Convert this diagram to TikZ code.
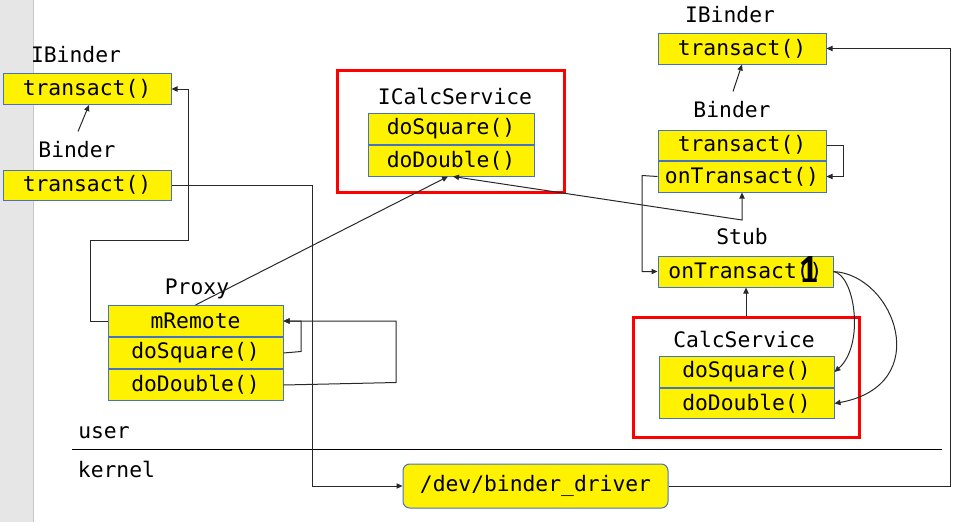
\documentclass[tikz,border=0pt]{standalone}
\usepackage{fontspec}
\usetikzlibrary{arrows.meta,calc}
\newfontfamily\dmono{DejaVu Sans Mono}
\newfontfamily\carl{Carlito}
\newcommand\mfont{\fontsize{16pt}{19pt}\selectfont\dmono}
\definecolor{boxblue}{RGB}{68,114,196}
\definecolor{stripgray}{RGB}{230,230,230}
\definecolor{stripline}{RGB}{200,200,200}
\definecolor{conn}{RGB}{40,40,40}
\begin{document}
\begin{tikzpicture}[x=0.75pt,y=-0.75pt,
  lbl/.style={font=\mfont, inner sep=0pt},
  row/.style={draw=boxblue, fill=yellow, line width=0.75pt, inner sep=0pt, font=\mfont},
  redframe/.style={draw=red, line width=2.25pt, inner sep=0pt},
  arr/.style={draw=conn, line width=0.75pt, -{Triangle[length=4.5pt,width=4pt]}},
  arrboth/.style={draw=conn, line width=0.75pt, {Triangle[length=4.5pt,width=4pt]}-{Triangle[length=4.5pt,width=4pt]}},
  plain/.style={draw=conn, line width=0.75pt}]
\useasboundingbox (0,0) rectangle (961,522);
% left gray strip
\fill[stripgray] (0,0) rectangle (33,522);
\draw[stripline, line width=0.75pt] (33,0) -- (33,522);

% red frames
\node[redframe, minimum width={227*0.75pt}, minimum height={122*0.75pt}] (icframe) at (450.5,131) {};
\node[redframe, minimum width={226*0.75pt}, minimum height={120*0.75pt}] (csframe) at (746,377) {};

% left IBinder / Binder
\node[lbl] (ib1) at (76,55) {IBinder};
\node[row, minimum width={168*0.75pt}, minimum height={31*0.75pt}] (t1) at (87,89) {transact()};
\node[lbl] (b1) at (77,150) {Binder};
\node[row, minimum width={168*0.75pt}, minimum height={30*0.75pt}] (t2) at (87,185) {transact()};

% ICalcService
\node[lbl] (icl) at (455,96) {ICalcService};
\node[row, minimum width={166*0.75pt}, minimum height={31*0.75pt}] (ic1) at (451,128.5) {doSquare()};
\node[row, minimum width={166*0.75pt}, minimum height={31*0.75pt}, anchor=north] (ic2) at (ic1.south) {doDouble()};

% Proxy
\node[lbl] (pxl) at (197,289) {Proxy};
\node[row, minimum width={175*0.75pt}, minimum height={31*0.75pt}] (p1) at (195.5,321) {mRemote};
\node[row, minimum width={175*0.75pt}, minimum height={31*0.75pt}, anchor=north] (p2) at (p1.south) {doSquare()};
\node[row, minimum width={175*0.75pt}, minimum height={31*0.75pt}, anchor=north] (p3) at (p2.south) {doDouble()};

% right IBinder / Binder / Stub
\node[lbl] (ib2) at (730,15) {IBinder};
\node[row, minimum width={168*0.75pt}, minimum height={31*0.75pt}] (r1) at (742,48.5) {transact()};
\node[lbl] (b2) at (732,110) {Binder};
\node[row, minimum width={168*0.75pt}, minimum height={30*0.75pt}] (r2) at (742,145) {transact()};
\node[row, minimum width={168*0.75pt}, minimum height={31*0.75pt}, anchor=north] (r3) at (r2.south) {onTransact()};
\node[lbl] (stl) at (742,237) {Stub};
\node[row, minimum width={175*0.75pt}, minimum height={31*0.75pt}] (s1) at (745.5,271.5) {onTransact()};
\node[font=\carl\bfseries\fontsize{30pt}{30pt}\selectfont, inner sep=0pt] (one) at (809,270) {1};

% CalcService
\node[lbl] (csl) at (744,339) {CalcService};
\node[row, minimum width={175*0.75pt}, minimum height={30.5*0.75pt}] (c1) at (746.5,372) {doSquare()};
\node[row, minimum width={175*0.75pt}, minimum height={30.5*0.75pt}, anchor=north] (c2) at (c1.south) {doDouble()};

% driver
\node[row, rounded corners=5pt, minimum width={265*0.75pt}, minimum height={44*0.75pt}] (drv) at (535.5,486) {/dev/binder\_driver};

% user / kernel
\draw[black, line width=0.75pt] (72,449) -- (942,449);
\node[lbl] (usr) at (104,433) {user};
\node[lbl] (krn) at (116.5,469) {kernel};

% connectors
\draw[arr] ($(b1.north)+(1,-10)$) -- ($(t1.south)+(2,0)$);
\draw[arr] ($(b2.north)+(1,-10)$) -- ($(r1.south)+(0,0)$);
\draw[arr] (t2.east) -- (312,185) |- (drv.west);
\draw[arr] (p1.west) -- (90,321) -- (90,240) -- (188,240) |- (t1.east);
\draw[arr] ($(p1.north)+(0,0)$) -- ($(ic2.south)+(-3,0)$);
\draw[arrboth] ($(ic2.south)+(2,0)$) -- (742,220) -- (r3.south);
\draw[arr] (r2.east) -- (843,145) |- (r3.east);
\draw[arr] (r3.west) -- (642,175.5) |- (s1.west);
\draw[arr] (csframe.north) -- (csframe.north |- s1.south);
\draw[arr] (s1.east) .. controls (855,275) and (865,345) .. (c1.east);
\draw[arr] (s1.east) .. controls (895,275) and (935,385) .. (c2.east);
\draw[arr] (p2.east) -- (301,351.5) |- (p1.east);
\draw[arr] (p3.east) -- (396,382.5) |- (p1.east);
\draw[arr] (drv.east) -- (950,486) |- (r1.east);
\end{tikzpicture}
\end{document}
